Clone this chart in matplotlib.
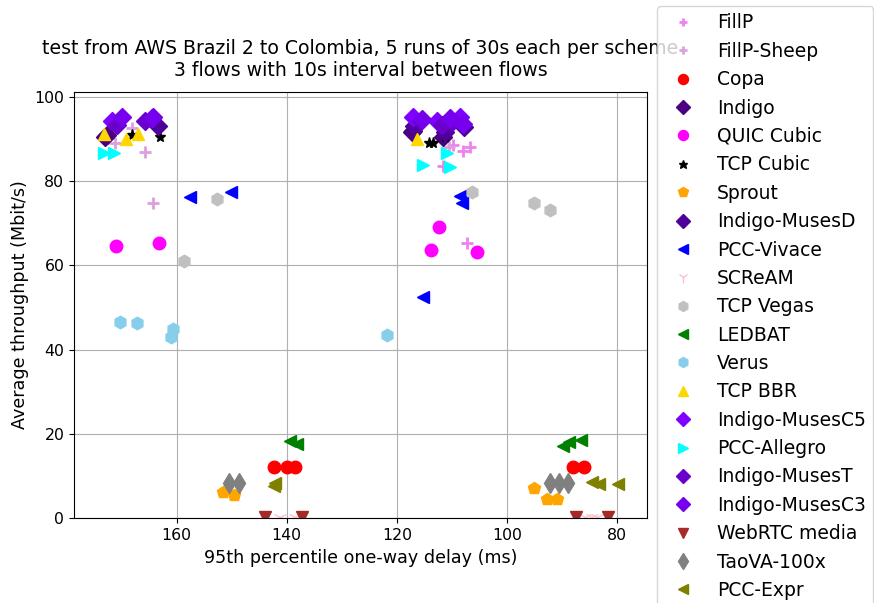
import matplotlib
matplotlib.use("Agg")
import matplotlib.pyplot as plt

# scheme -> (delay ms, throughput Mbit/s) for each run
schemes = ["FillP", "FillP-Sheep", "Copa", "Indigo", "QUIC Cubic", "TCP Cubic",
           "Sprout", "Indigo-MusesD", "PCC-Vivace", "SCReAM", "TCP Vegas",
           "LEDBAT", "Verus", "TCP BBR", "Indigo-MusesC5", "PCC-Allegro",
           "Indigo-MusesT", "Indigo-MusesC3", "WebRTC media", "TaoVA-100x",
           "PCC-Expr"]

fillp_x = [109.8, 108.0, 106.7, 111.7, 107.3]
fillp_y = [88.6, 87.2, 88.1, 83.6, 65.4]
fillp_sheep_x = [171.1, 168.1, 165.7, 164.3, 110.5]
fillp_sheep_y = [89.1, 92.5, 87.0, 74.7, 88.0]
copa_x = [142.3, 139.9, 138.5, 88.1, 86.0]
copa_y = [12.2, 12.2, 12.2, 12.2, 12.2]
indigo_x = [172.9, 117.3, 111.6, 172.6, 117.0]
indigo_y = [90.5, 91.7, 90.5, 90.9, 92.0]
quic_x = [171.0, 163.1, 112.3, 113.8, 105.5]
quic_y = [64.6, 65.4, 69.2, 63.6, 63.2]
cubic_x = [168.1, 163.0, 114.1, 113.4, 111.3]
cubic_y = [90.9, 90.5, 89.1, 89.1, 90.4]
sprout_x = [151.6, 149.5, 95.2, 92.8, 91.0]
sprout_y = [6.3, 5.5, 7.1, 4.5, 4.5]
musesd_x = [163.3, 111.3, 107.8, 171.0, 116.9]
musesd_y = [93.0, 91.7, 92.9, 93.5, 93.0]
vivace_x = [157.5, 150.1, 108.5, 108.2, 115.2]
vivace_y = [76.3, 77.5, 76.4, 74.7, 52.4]
scream_x = [141.3, 138.5, 85.8, 84.6, 83.7]
scream_y = [0.2, 0.2, 0.2, 0.2, 0.2]
vegas_x = [152.7, 158.6, 106.4, 95.1, 92.2]
vegas_y = [75.7, 61.1, 77.5, 74.7, 73.1]
ledbat_x = [139.4, 138.2, 89.9, 88.8, 86.6]
ledbat_y = [18.4, 17.6, 17.1, 18.1, 18.6]
verus_x = [170.2, 167.2, 160.7, 161.0, 121.8]
verus_y = [46.5, 46.3, 44.8, 43.1, 43.5]
bbr_x = [173.2, 169.1, 166.9, 116.3]
bbr_y = [91.2, 90.1, 91.1, 90.1]
musesc5_x = [171.7, 112.8, 108.5, 117.0, 164.4]
musesc5_y = [94.3, 94.3, 95.1, 95.1, 95.0]
allegro_x = [173.1, 171.4, 110.9, 115.3, 110.3]
allegro_y = [86.7, 86.7, 86.6, 83.8, 83.4]
masest_x = [165.7, 115.7, 111.9, 170.8, 110.0]
masest_y = [94.3, 94.3, 93.3, 93.3, 94.0]
musesc3_x = [169.9, 164.3, 110.3, 108.0, 115.5]
musesc3_y = [95.1, 95.1, 94.9, 93.5, 94.8]
webrtc_x = [144.0, 137.3, 87.5, 81.6]
webrtc_y = [0.4, 0.4, 0.4, 0.4]
taova_x = [150.4, 148.6, 92.3, 90.5, 88.9]
taova_y = [8.4, 8.4, 8.4, 8.4, 8.4]
expr_x = [142.1, 142.3, 84.5, 83.3, 79.9]
expr_y = [8.3, 7.6, 8.7, 8.1, 8.1]

xs = [fillp_x, fillp_sheep_x, copa_x, indigo_x, quic_x, cubic_x, sprout_x,
      musesd_x, vivace_x, scream_x, vegas_x, ledbat_x, verus_x, bbr_x,
      musesc5_x, allegro_x, masest_x, musesc3_x, webrtc_x, taova_x, expr_x]
ys = [fillp_y, fillp_sheep_y, copa_y, indigo_y, quic_y, cubic_y, sprout_y,
      musesd_y, vivace_y, scream_y, vegas_y, ledbat_y, verus_y, bbr_y,
      musesc5_y, allegro_y, masest_y, musesc3_y, webrtc_y, taova_y, expr_y]

# marker, color, size
styles = [
    ("+", "violet", 8),
    ("+", "plum", 8),
    ("o", "red", 9),
    ("D", "#4b0082", 9.5),
    ("o", "magenta", 9),
    ("*", "black", 8),
    ("p", "orange", 9),
    ("D", "#50009a", 9.5),
    ("<", "blue", 9),
    ("1", "pink", 10),
    ("h", "silver", 9),
    ("<", "green", 9),
    ("h", "skyblue", 9),
    ("^", "gold", 9),
    ("D", "#7f00ff", 9.5),
    (">", "cyan", 9),
    ("D", "#6a00cc", 9.5),
    ("D", "#7600ee", 9.5),
    ("v", "brown", 9),
    ("d", "gray", 10),
    ("<", "olive", 9),
]

fig = plt.figure(figsize=(8.74, 6.03), dpi=100)
ax = fig.add_axes([0.0847, 0.1405, 0.6556, 0.7073])

for name, x, y, (m, c, ms) in zip(schemes, xs, ys, styles):
    ax.plot(x, y, linestyle="none", marker=m, color=c, markersize=ms,
            markeredgewidth=2 if m == "+" else 1, label=name)

ax.set_xlim(178.6, 74.6)
ax.set_ylim(0, 101.2)
ax.set_xticks([160, 140, 120, 100, 80])
ax.set_yticks([0, 20, 40, 60, 80, 100])
ax.tick_params(labelsize=11.3)
ax.grid(True)
ax.set_xlabel("95th percentile one-way delay (ms)", fontsize=12.6)
ax.set_ylabel("Average throughput (Mbit/s)", fontsize=12.6)
ax.set_title("test from AWS Brazil 2 to Colombia, 5 runs of 30s each per scheme\n"
             "3 flows with 10s interval between flows", fontsize=13.6, pad=11)

ax.legend(loc="upper left", bbox_to_anchor=(657 / 874, 1 - 6 / 603),
          bbox_transform=fig.transFigure, borderaxespad=0, fontsize=13.5,
          markerscale=0.8, numpoints=1)

fig.savefig("out.png", dpi=100)
